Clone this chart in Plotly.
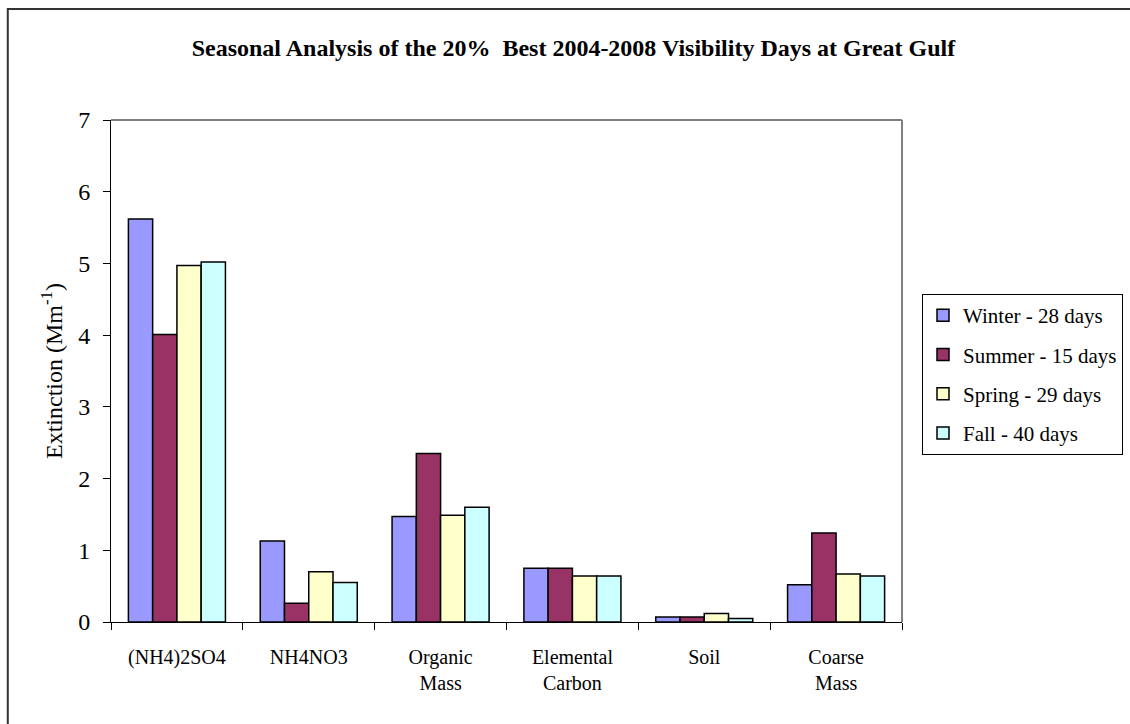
import plotly.graph_objects as go

# Chemical components (x categories) and extinction per season, Mm^-1
categories = ["(NH4)2SO4", "NH4NO3", "Organic<br>Mass", "Elemental<br>Carbon", "Soil", "Coarse<br>Mass"]
winter = [5.62, 1.13, 1.47, 0.75, 0.07, 0.52]
summer = [4.01, 0.26, 2.35, 0.75, 0.07, 1.24]
spring = [4.97, 0.70, 1.49, 0.64, 0.12, 0.67]
fall = [5.02, 0.55, 1.60, 0.64, 0.05, 0.64]
series_names = ["Winter - 28 days", "Summer - 15 days", "Spring - 29 days", "Fall - 40 days"]
y_ticks = [0, 1, 2, 3, 4, 5, 6, 7]

colors = ["#9999FF", "#993366", "#FFFFCC", "#CCFFFF"]
FONT = "Liberation Serif, Times New Roman, serif"

fig = go.Figure()
for name, vals, col in zip(series_names, [winter, summer, spring, fall], colors):
    fig.add_trace(go.Bar(
        x=categories, y=vals, name=name, legendgroup=name,
        marker=dict(color=col, line=dict(color="black", width=1.5)),
    ))

fig.update_layout(
    width=1130, height=724,
    margin=dict(l=111, r=228, t=120, b=102, autoexpand=False),
    paper_bgcolor="white", plot_bgcolor="white",
    barmode="group", bargap=0.264, bargroupgap=0,
    font=dict(family=FONT, color="black", size=18),
    title=dict(
        text="<b>Seasonal Analysis of the 20%  Best 2004-2008 Visibility Days at Great Gulf</b>",
        x=0.5075, xref="container", xanchor="center",
        y=1 - 48 / 724, yref="container", yanchor="middle",
        font=dict(family=FONT, size=24, color="black"),
    ),
    legend=dict(
        x=922 / 1130, xref="container", xanchor="left",
        y=1 - 294 / 724, yref="container", yanchor="top",
        bordercolor="black", borderwidth=1, bgcolor="white",
        font=dict(family=FONT, size=21, color="black"),
        tracegroupgap=9, itemwidth=30,
    ),
    showlegend=True,
)

fig.update_xaxes(
    type="category", showline=True, linecolor="black", linewidth=1,
    ticks="outside", tickson="boundaries", ticklen=7, tickcolor="black",
    showgrid=False, tickfont=dict(family=FONT, size=20), ticklabelstandoff=17,
)
fig.update_yaxes(
    range=[0, 7], tickvals=y_ticks, showline=True, linecolor="black", linewidth=1,
    ticks="outside", ticklen=7, tickcolor="black", showgrid=False, zeroline=False,
    tickfont=dict(family=FONT, size=24), ticklabelstandoff=8,
    title=dict(text="Extinction (Mm<sup>-1</sup>)", font=dict(family=FONT, size=24), standoff=8),
)

# plot-area frame: black top edge, grey right edge
fig.add_shape(type="line", xref="paper", yref="paper", x0=0, x1=1, y0=1, y1=1,
              line=dict(color="black", width=1))
fig.add_shape(type="line", xref="paper", yref="paper", x0=1, x1=1, y0=0, y1=1,
              line=dict(color="#808080", width=2))
# chart-area border
fig.add_shape(type="rect", xref="paper", yref="paper", x0=-0.1305, x1=1.35, y0=-0.3, y1=1.2211,
              line=dict(color="#333333", width=2), layer="below")

fig.write_html("out.html")
